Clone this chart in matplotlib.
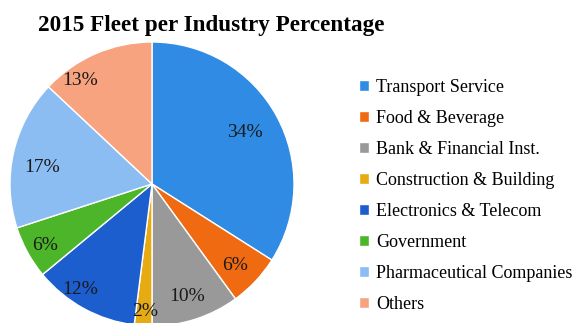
import numpy as np
import matplotlib.pyplot as plt

# =================================
# DATA
# =================================

industries = [
    "Transport Service",
    "Food & Beverage",
    "Bank & Financial Inst.",
    "Construction & Building",
    "Electronics & Telecom",
    "Government",
    "Pharmaceutical Companies",
    "Others",
]
shares = [34, 6, 10, 2, 12, 6, 17, 13]

colors = ["#2f8be4", "#f06a12", "#999999", "#e6ab12",
          "#1c5ecd", "#4db52a", "#8cbdf2", "#f8a380"]

# label placement (radius fraction, angle offset in degrees)
label_r = [0.75, 0.82, 0.83, 0.90, 0.90, 0.87, 0.78, 0.89]
label_da = [0, -1.5, -0.8, 0.5, -5.4, 0.9, 3.8, 11.3]

# =================================
# PIE CHART
# =================================

plt.rcParams["font.family"] = ["Liberation Serif", "DejaVu Serif"]

fig = plt.figure(figsize=(5.82, 3.23), dpi=100)
ax = fig.add_axes([10 / 582, -3 / 323, 284 / 582, 284 / 323])

wedges, _ = ax.pie(
    shares,
    colors=colors,
    startangle=90,
    counterclock=False,
    radius=1.0,
    wedgeprops=dict(edgecolor="white", linewidth=1.0),
)
ax.set_xlim(-1, 1)
ax.set_ylim(-1, 1)
ax.set_aspect("equal")
ax.axis("off")

for w, val, r, da in zip(wedges, shares, label_r, label_da):
    ang = np.deg2rad((w.theta1 + w.theta2) / 2 + da)
    ax.text(r * np.cos(ang), r * np.sin(ang), f"{val}%",
            ha="center", va="center", fontsize=14, color="#1a1a1a")

fig.text(211 / 582, 1 - 25 / 323, "2015 Fleet per Industry Percentage",
         ha="center", va="center", fontsize=16.7, fontweight="bold")

fig.legend(
    wedges, industries,
    loc="center left",
    bbox_to_anchor=(343 / 582, 1 - 196 / 323),
    frameon=False,
    fontsize=13,
    handlelength=0.55,
    handleheight=0.55,
    handletextpad=0.4,
    labelspacing=0.78,
)

plt.savefig("out.png", dpi=100)
